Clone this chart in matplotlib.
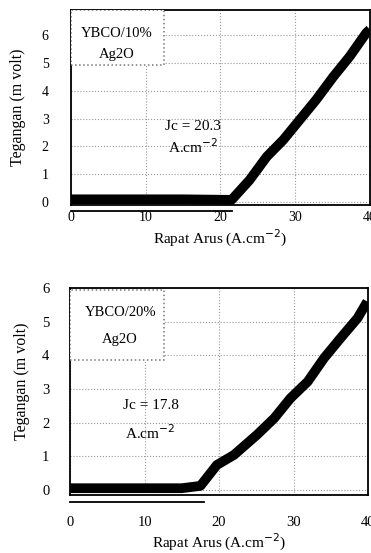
import matplotlib
matplotlib.use("Agg")
import matplotlib.pyplot as plt
from matplotlib.patches import Rectangle

plt.rcParams['font.family'] = ['Liberation Serif', 'DejaVu Serif']

# YBCO/10% Ag2O  (J in A.cm-2, V in m volt)
j10 = [0, 5, 10, 15, 21.5, 23.9, 26.2, 28.4, 30.6, 32.8, 35.1, 37.3, 39.5, 40]
v10 = [0.1, 0.1, 0.1, 0.1, 0.08, 0.79, 1.63, 2.23, 2.95, 3.67, 4.5, 5.23, 6.07, 6.2]

# YBCO/20% Ag2O
j20 = [0, 5, 10, 15, 17.5, 19.7, 22.0, 25.1, 27.4, 29.6, 31.9, 34.1, 36.3, 38.6, 39.9]
v20 = [0.05, 0.05, 0.05, 0.05, 0.12, 0.74, 1.04, 1.64, 2.13, 2.73, 3.22, 3.92, 4.51, 5.11, 5.6]

xticks = [0, 10, 20, 30, 40]

fig = plt.figure(figsize=(3.71, 5.53), dpi=100)
ax1 = fig.add_axes([0.191, 0.629, 0.806, 0.353])
ax2 = fig.add_axes([0.189, 0.105, 0.803, 0.374])

# ax, J, V, sample, Jc, Jc pos, unit pos, ylim, end of lower line,
# tick size, x pad, y pad, xlabel y, ylabel (x, y), box (x0,y0,w,h), text x, text ys
panels = [
    (ax1, j10, v10, ("YBCO/10%", "Ag2O"), "Jc = 20.3", (16.3, 2.7), (16.3, 2.0),
     (-0.11, 6.9), 21.5, 10, 4, 16, -0.115, (-0.15, 0.5),
     (0, 0.72, 0.31, 0.28), 0.154, (0.88, 0.77)),
    (ax2, j20, v20, ("YBCO/20%", "Ag2O"), "Jc = 17.8", (10.8, 2.5), (10.8, 1.7),
     (-0.15, 6.0), 18.0, 10.5, 15, 15, -0.18, (-0.135, 0.55),
     (0, 0.652, 0.315, 0.338), 0.168, (0.88, 0.75)),
]

for (ax, j, v, name, jc, p1, p2, yl, jend, fs, xpad, ypad, xly, ylc,
     box, tx, tys) in panels:
    ax.plot(j, v, color='black', lw=7, solid_capstyle='butt')
    ax.set_xlim(0, 40)
    ax.set_ylim(*yl)
    ax.set_xticks(xticks)
    ax.set_yticks(range(0, 7))
    ax.tick_params(length=0, labelsize=fs)
    ax.tick_params(axis='x', pad=xpad)
    ax.tick_params(axis='y', pad=ypad)
    ax.grid(True, color='#999999', ls=':', lw=0.8)
    ax.set_axisbelow(True)
    for s in ax.spines.values():
        s.set_linewidth(1.3)
    # double line under the flat part (scan artefact)
    ax.plot([0, jend], [yl[0] - 0.2, yl[0] - 0.2], color='black', lw=1.3, clip_on=False)
    ax.add_patch(Rectangle(box[:2], box[2], box[3], transform=ax.transAxes,
                           fc='white', ec='#777777', ls=':', lw=1.1, zorder=3))
    ax.text(tx, tys[0], name[0], transform=ax.transAxes, ha='center', va='center',
            fontsize=10.5, zorder=4)
    ax.text(tx, tys[1], name[1], transform=ax.transAxes, ha='center', va='center',
            fontsize=10.5, zorder=4)
    ax.text(p1[0], p1[1], jc, ha='center', va='center', fontsize=11)
    ax.text(p2[0], p2[1], "A.cm$^{-2}$", ha='center', va='center', fontsize=11)
    ax.set_xlabel("Rapat Arus (A.cm$^{-2}$)", fontsize=11)
    ax.xaxis.set_label_coords(0.5, xly)
    ax.set_ylabel("Tegangan (m volt)", fontsize=11.5)
    ax.yaxis.set_label_coords(*ylc)

fig.savefig("out.png", dpi=100)
